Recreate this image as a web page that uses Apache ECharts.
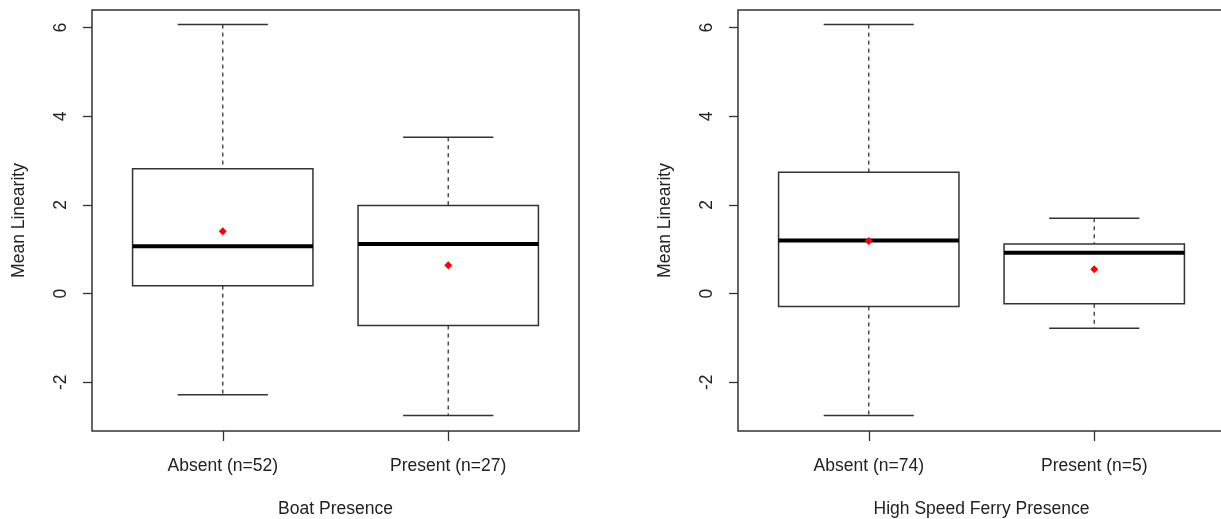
<!DOCTYPE html>
<html>
<head>
<meta charset="utf-8">
<script src="https://cdn.jsdelivr.net/npm/echarts@6/dist/echarts.min.js"></script>
<style>
html,body{margin:0;padding:0;background:#fff;}
#chart{width:1221px;height:519px;}
</style>
</head>
<body>
<div id="chart"></div>
<script>
// ---- data ----
const boatCategories = ['Absent (n=52)', 'Present (n=27)'];
const boatLow    = [-2.28, -2.75];
const boatQ1     = [0.18, -0.72];
const boatMedian = [1.07, 1.12];
const boatQ3     = [2.82, 1.99];
const boatHigh   = [6.07, 3.53];
const boatMean   = [1.41, 0.64];

const ferryCategories = ['Absent (n=74)', 'Present (n=5)'];
const ferryLow    = [-2.75, -0.78];
const ferryQ1     = [-0.29, -0.23];
const ferryMedian = [1.20, 0.92];
const ferryQ3     = [2.74, 1.12];
const ferryHigh   = [6.07, 1.70];
const ferryMean   = [1.19, 0.55];

const yTicks = [-2, 0, 2, 4, 6];
const xPositions = [1, 2];
const yTitle = 'Mean Linearity';
const boatTitle = 'Boat Presence';
const ferryTitle = 'High Speed Ferry Presence';

// ---- build ----
const FONT = "'Liberation Sans', Arial, sans-serif";
const FS = 17.5;
const TXT = '#222';
const LINE = '#333';

function rows(low, q1, med, q3, high, mean) {
  return xPositions.map((x, i) => [x, low[i], q1[i], med[i], q3[i], high[i], mean[i]]);
}

function renderBox(params, api) {
  const x = api.value(0);
  const lo = api.value(1), q1 = api.value(2), md = api.value(3),
        q3 = api.value(4), hi = api.value(5), mn = api.value(6);
  const halfBox = 0.4, halfCap = 0.2;
  const pLo = api.coord([x, lo]), pQ1 = api.coord([x, q1]), pQ3 = api.coord([x, q3]), pHi = api.coord([x, hi]);
  const bl = api.coord([x - halfBox, q3]), br = api.coord([x + halfBox, q1]);
  const mdL = api.coord([x - halfBox, md]), mdR = api.coord([x + halfBox, md]);
  const capLl = api.coord([x - halfCap, lo]), capLr = api.coord([x + halfCap, lo]);
  const capHl = api.coord([x - halfCap, hi]), capHr = api.coord([x + halfCap, hi]);
  const pm = api.coord([x, mn]);
  const dashed = {stroke: LINE, lineWidth: 1.3, lineDash: [4, 4]};
  const solid = {stroke: LINE, lineWidth: 1.5};
  const d = 4;
  return {
    type: 'group',
    children: [
      {type: 'line', shape: {x1: pHi[0], y1: pHi[1], x2: pQ3[0], y2: pQ3[1]}, style: dashed},
      {type: 'line', shape: {x1: pQ1[0], y1: pQ1[1], x2: pLo[0], y2: pLo[1]}, style: dashed},
      {type: 'line', shape: {x1: capHl[0], y1: capHl[1], x2: capHr[0], y2: capHr[1]}, style: solid},
      {type: 'line', shape: {x1: capLl[0], y1: capLl[1], x2: capLr[0], y2: capLr[1]}, style: solid},
      {type: 'rect', shape: {x: bl[0], y: bl[1], width: br[0] - bl[0], height: br[1] - bl[1]},
       style: {fill: '#fff', stroke: LINE, lineWidth: 1.5}},
      {type: 'line', shape: {x1: mdL[0], y1: mdL[1], x2: mdR[0], y2: mdR[1]}, style: {stroke: '#000', lineWidth: 4}},
      {type: 'polygon', shape: {points: [[pm[0], pm[1] - d], [pm[0] + d, pm[1]], [pm[0], pm[1] + d], [pm[0] - d, pm[1]]]},
       style: {fill: '#ff0000'}}
    ]
  };
}

function xAxisCfg(idx, cats, title) {
  return {
    type: 'value', gridIndex: idx, min: 0.42, max: 2.58, position: 'bottom',
    splitLine: {show: false},
    axisLine: {show: false, onZero: false},
    axisTick: {show: true, customValues: xPositions, length: 10, lineStyle: {color: LINE, width: 1.3}},
    axisLabel: {customValues: xPositions, margin: 26, fontFamily: FONT, fontSize: FS, color: TXT,
      formatter: v => cats[xPositions.indexOf(Math.round(v))] || ''},
    name: title, nameLocation: 'middle', nameGap: 69,
    nameTextStyle: {fontFamily: FONT, fontSize: FS, color: TXT}
  };
}

function yAxisCfg(idx) {
  return {
    type: 'value', gridIndex: idx, min: -3.1, max: 6.4, position: 'left',
    splitLine: {show: false},
    axisLine: {show: false, onZero: false},
    axisTick: {show: true, customValues: yTicks, length: 9, lineStyle: {color: LINE, width: 1.3}},
    axisLabel: {customValues: yTicks, rotate: 90, margin: 22, fontFamily: FONT, fontSize: FS, color: TXT},
    name: yTitle, nameLocation: 'middle', nameGap: 64,
    nameTextStyle: {fontFamily: FONT, fontSize: FS, color: TXT}
  };
}

const chart = echarts.init(document.getElementById('chart'), null, {renderer: 'canvas'});
chart.setOption({
  animation: false,
  backgroundColor: '#fff',
  grid: [
    {left: 92, top: 10, width: 487, height: 421, show: true, borderColor: LINE, borderWidth: 1.5,
     backgroundColor: 'transparent', containLabel: false, outerBoundsMode: 'none'},
    {left: 738, top: 10, width: 487, height: 421, show: true, borderColor: LINE, borderWidth: 1.5,
     backgroundColor: 'transparent', containLabel: false, outerBoundsMode: 'none'}
  ],
  xAxis: [xAxisCfg(0, boatCategories, boatTitle), xAxisCfg(1, ferryCategories, ferryTitle)],
  yAxis: [yAxisCfg(0), yAxisCfg(1)],
  series: [
    {type: 'custom', xAxisIndex: 0, yAxisIndex: 0, renderItem: renderBox,
     encode: {x: 0, y: [1, 2, 3, 4, 5, 6]},
     data: rows(boatLow, boatQ1, boatMedian, boatQ3, boatHigh, boatMean)},
    {type: 'custom', xAxisIndex: 1, yAxisIndex: 1, renderItem: renderBox,
     encode: {x: 0, y: [1, 2, 3, 4, 5, 6]},
     data: rows(ferryLow, ferryQ1, ferryMedian, ferryQ3, ferryHigh, ferryMean)}
  ]
});
</script>
</body>
</html>
